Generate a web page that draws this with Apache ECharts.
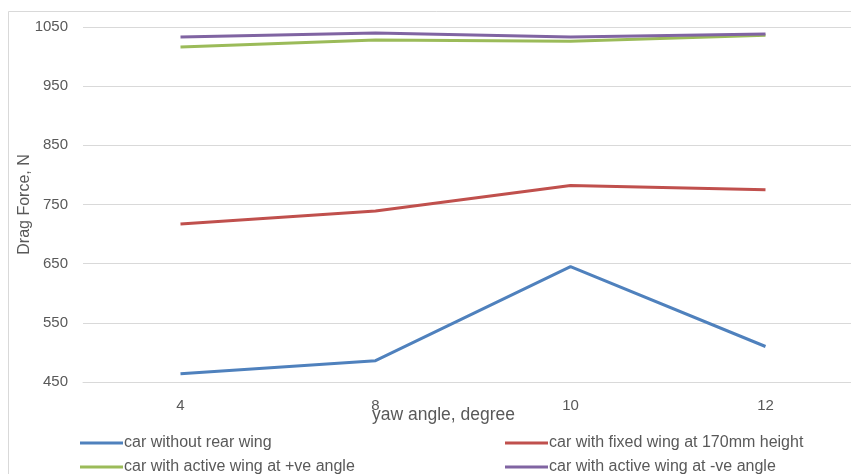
<!DOCTYPE html>
<html><head><meta charset="utf-8">
<script src="https://cdn.jsdelivr.net/npm/echarts@6/dist/echarts.min.js"></script>
<style>html,body{margin:0;padding:0;background:#fff;overflow:hidden}#c{width:864px;height:474px}</style>
</head><body><div id="c"></div>
<script>
const categories = ['4', '8', '10', '12'];
const seriesNames = ['car without rear wing', 'car with fixed wing at 170mm height', 'car with active wing at +ve angle', 'car with active wing at -ve angle'];
const noWing = [464, 486, 645, 510];
const fixedWing = [717, 739, 782, 775];
const activePos = [1016, 1028, 1026, 1036];
const activeNeg = [1033, 1040, 1033, 1038];
const yTicks = [450, 550, 650, 750, 850, 950, 1050];

const colors = ['#4F81BD', '#C0504D', '#9BBB59', '#8064A2'];
const values = [noWing, fixedWing, activePos, activeNeg];
const font = 'Liberation Sans';
const legendPos = [[75, 430], [500, 430], [75, 454], [500, 454]];

const chart = echarts.init(document.getElementById('c'), null, {renderer: 'canvas'});
chart.setOption({
  animation: false,
  backgroundColor: '#fff',
  grid: {left: 83, top: 27, right: 1, bottom: 92, containLabel: false},
  xAxis: {
    type: 'category', data: categories, boundaryGap: true,
    axisLine: {show: true, lineStyle: {color: '#d9d9d9'}},
    axisTick: {show: false},
    axisLabel: {color: '#595959', fontFamily: font, fontSize: 15, margin: 16}
  },
  yAxis: {
    type: 'value', min: yTicks[0], max: yTicks[yTicks.length - 1], interval: 100,
    axisLine: {show: false}, axisTick: {show: false},
    splitLine: {lineStyle: {color: '#d9d9d9', width: 1}},
    axisLabel: {color: '#595959', fontFamily: font, fontSize: 15, margin: 15, formatter: v => String(v)},
    name: 'Drag Force, N', nameLocation: 'middle', nameGap: 50, nameRotate: 90, nameMoveOverlap: false,
    nameTextStyle: {color: '#595959', fontFamily: font, fontSize: 16}
  },
  legend: seriesNames.map((n, i) => ({
    data: [n], left: legendPos[i][0], top: legendPos[i][1],
    icon: 'rect', itemWidth: 43, itemHeight: 3, itemGap: 2,
    textStyle: {color: '#595959', fontFamily: font, fontSize: 16, padding: [0, 0, 0, -4]}
  })),
  graphic: [
    {type: 'rect', shape: {x: 8.5, y: 11.5, width: 880, height: 480}, style: {fill: 'none', stroke: '#d9d9d9', lineWidth: 1}, silent: true},
    {type: 'text', left: 372, top: 406, style: {text: 'yaw angle, degree', fill: '#595959', font: '17.5px "Liberation Sans"'}}
  ],
  series: seriesNames.map((n, i) => ({
    name: n, type: 'line', data: values[i], symbol: 'none', smooth: false,
    lineStyle: {color: colors[i], width: 3}, itemStyle: {color: colors[i]}
  }))
});
</script></body></html>
